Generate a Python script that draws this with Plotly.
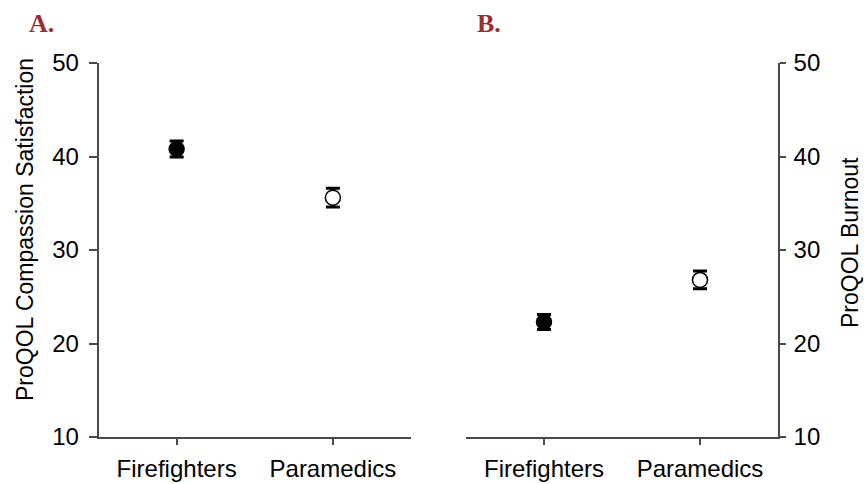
import plotly.graph_objects as go

# Group categories and ProQOL means with error half-widths
groups = ["Firefighters", "Paramedics"]
compassion_mean = [40.8, 35.6]
compassion_err = [0.85, 1.0]
burnout_mean = [22.3, 26.8]
burnout_err = [0.8, 0.95]
y_ticks = [10, 20, 30, 40, 50]

fill_colors = ["black", "white"]
W, H = 868, 484

fig = go.Figure()

for ys, errs, xa, ya in [(compassion_mean, compassion_err, "x", "y"),
                         (burnout_mean, burnout_err, "x2", "y2")]:
    fig.add_trace(go.Scatter(
        x=groups, y=ys, mode="markers",
        error_y=dict(type="data", array=errs, color="black", thickness=3, width=7),
        marker=dict(size=15, color=fill_colors, line=dict(color="black", width=1.5)),
        xaxis=xa, yaxis=ya, showlegend=False,
    ))

sans = "Liberation Sans, Arial, sans-serif"
tick_font = dict(family=sans, size=24, color="black")
axis_common = dict(showline=True, linecolor="#4a4a4a", linewidth=1.5, showgrid=False,
                   zeroline=False, ticks="outside", tickcolor="#4a4a4a", tickwidth=1.5,
                   tickfont=tick_font, automargin=False)

y_dom = [1 - 437 / H, 1 - 63 / H]

fig.update_layout(
    width=W, height=H,
    margin=dict(l=0, r=0, t=0, b=0, autoexpand=False),
    paper_bgcolor="white", plot_bgcolor="white",
    xaxis=dict(domain=[98.5 / W, 411 / W], range=[-0.5, 1.5], anchor="y",
               ticklen=6, ticklabelstandoff=3, **axis_common),
    yaxis=dict(domain=y_dom, range=[10, 50], tickvals=y_ticks, anchor="x",
               ticklen=8, ticklabelstandoff=5, **axis_common),
    xaxis2=dict(domain=[466 / W, 778 / W], range=[-0.5, 1.5], anchor="y2",
                ticklen=6, ticklabelstandoff=3, **axis_common),
    yaxis2=dict(domain=y_dom, range=[10, 50], tickvals=y_ticks, anchor="x2",
                side="right", ticklen=6, ticklabelstandoff=3, **axis_common),
)

title_font = dict(family=sans, size=23, color="black")
letter_font = dict(family="Liberation Serif, serif", size=26, color="#9B2F2F")

fig.add_annotation(text="ProQOL Compassion Satisfaction", textangle=-90,
                   x=25 / W, y=1 - 230 / H, xref="paper", yref="paper",
                   xanchor="center", yanchor="middle", showarrow=False, font=title_font)
fig.add_annotation(text="ProQOL Burnout", textangle=-90,
                   x=850 / W, y=1 - 243 / H, xref="paper", yref="paper",
                   xanchor="center", yanchor="middle", showarrow=False, font=title_font)
fig.add_annotation(text="<b>A.</b>", x=41 / W, y=1 - 23 / H, xref="paper", yref="paper",
                   xanchor="center", yanchor="middle", showarrow=False, font=letter_font)
fig.add_annotation(text="<b>B.</b>", x=489 / W, y=1 - 23 / H, xref="paper", yref="paper",
                   xanchor="center", yanchor="middle", showarrow=False, font=letter_font)

fig.write_html("out.html")
